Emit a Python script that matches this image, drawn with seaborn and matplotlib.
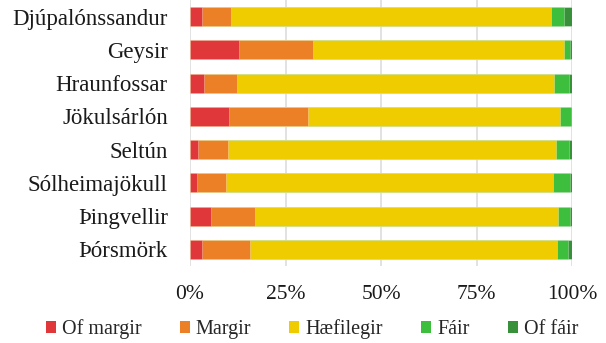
import matplotlib
matplotlib.use("Agg")
import matplotlib.pyplot as plt
from matplotlib.patches import Patch
import numpy as np
import pandas as pd
import seaborn as sns

places = ["Djúpalónssandur", "Geysir", "Hraunfossar", "Jökulsárlón",
          "Seltún", "Sólheimajökull", "Þingvellir", "Þórsmörk"]
levels = ["Of margir", "Margir", "Hæfilegir", "Fáir", "Of fáir"]

of_margir = [3.1, 12.8, 3.7, 10.2, 2.0, 1.8, 5.4, 3.1]
margir = [7.6, 19.4, 8.5, 20.7, 7.9, 7.6, 11.7, 12.6]
haefilegir = [83.8, 65.6, 83.0, 66.0, 85.9, 85.5, 79.2, 80.2]
fair = [3.3, 1.6, 3.9, 2.8, 3.3, 4.4, 3.0, 2.9]
of_fair = [2.2, 0.6, 0.9, 0.3, 0.9, 0.7, 0.7, 1.2]

colors = ["#E0383A", "#EC8026", "#EECC00", "#3DBE3D", "#38903A"]

df = pd.DataFrame({"place": places, "Of margir": of_margir, "Margir": margir,
                   "Hæfilegir": haefilegir, "Fáir": fair, "Of fáir": of_fair})
shares = df[levels].div(df[levels].sum(axis=1), axis=0) * 100
cum = shares.cumsum(axis=1)
cum["place"] = places

sns.set_style("whitegrid")
plt.rcParams["font.family"] = ["Liberation Serif", "DejaVu Serif"]

fig = plt.figure(figsize=(6.06, 3.43), dpi=100)
ax = fig.add_axes([190 / 606, 1 - 266 / 343, (572.3 - 190) / 606, 266 / 343])

# stacked bars: draw cumulative totals from the outermost level inward
for lvl, col in reversed(list(zip(levels, colors))):
    sns.barplot(data=cum, x=lvl, y="place", order=places, color=col,
                width=0.57, orient="h", ax=ax, edgecolor=(1, 1, 1, 0.35),
                linewidth=0.6, saturation=1)

ax.set_xlim(0, 100)
ax.set_ylim(7.5, -0.5)
ax.set_xticks([0, 25, 50, 75, 100])
ax.set_xticklabels(["0%", "25%", "50%", "75%", "100%"])
ax.set_xlabel("")
ax.set_ylabel("")
ax.grid(axis="x", color="#dddddd", linewidth=1.2)
ax.grid(axis="y", visible=False)
ax.set_axisbelow(True)
for s in ax.spines.values():
    s.set_visible(False)
ax.tick_params(axis="both", length=0, colors="#1a1a1a")
ax.tick_params(axis="x", pad=14, labelsize=15.5)
ax.tick_params(axis="y", pad=16, labelsize=16.5)

handles = [Patch(facecolor=c, edgecolor="none") for c in colors]
fig.legend(handles, levels, loc="center", bbox_to_anchor=(312 / 606, 1 - 329 / 343),
           ncol=5, frameon=False, fontsize=14.5, handlelength=0.5,
           handleheight=0.5, handletextpad=0.3, columnspacing=1.9,
           borderaxespad=0, borderpad=0)

fig.savefig("out.png", dpi=100)
